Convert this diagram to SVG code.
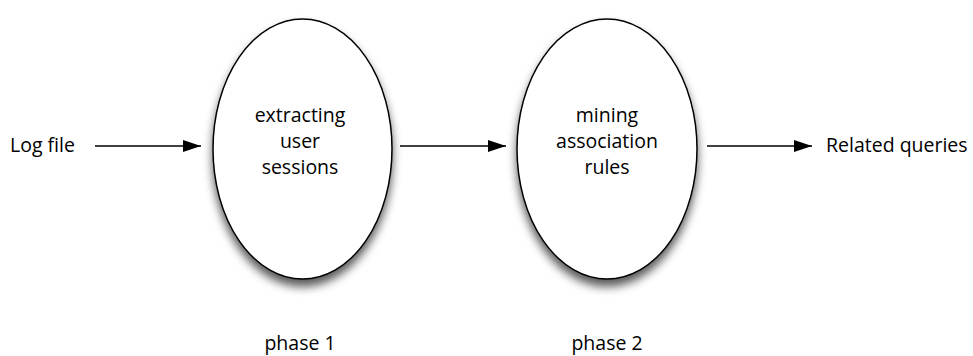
<svg xmlns="http://www.w3.org/2000/svg" width="973" height="356" viewBox="0 0 973 356">
<style>
text{font-family:"Open Sans","Liberation Sans",sans-serif;font-size:19.5px;fill:#000}
.c{text-anchor:middle}
.node ellipse{fill:#fff;stroke:#000;stroke-width:1.5}
.conn line{stroke:#000;stroke-width:1.5}
</style>
<defs>
<filter id="sh" x="-20%" y="-20%" width="140%" height="150%">
<feDropShadow dx="0" dy="7" stdDeviation="5" flood-color="#000" flood-opacity="0.65"/>
</filter>
<marker id="ah" markerWidth="18" markerHeight="12" refX="18" refY="6" orient="auto" markerUnits="userSpaceOnUse">
<path d="M0,0 L18,6 L0,12 Z" fill="#000"/>
</marker>
</defs>
<g id="logfile"><text x="10" y="152">Log file</text></g>
<g id="phase1node" class="node">
<ellipse cx="302.5" cy="149" rx="89.5" ry="130" filter="url(#sh)"/>
<text class="c" x="300" y="122">extracting</text>
<text class="c" x="300" y="148">user</text>
<text class="c" x="300" y="174">sessions</text>
</g>
<g id="phase2node" class="node">
<ellipse cx="607" cy="149" rx="90" ry="130" filter="url(#sh)"/>
<text class="c" x="607" y="122">mining</text>
<text class="c" x="607" y="148">association</text>
<text class="c" x="607" y="174">rules</text>
</g>
<g id="related"><text x="826" y="152">Related queries</text></g>
<g id="label1"><text class="c" x="300" y="350">phase 1</text></g>
<g id="label2"><text class="c" x="607" y="350">phase 2</text></g>
<g id="connectors" class="conn">
<line x1="95" y1="146" x2="201" y2="146" marker-end="url(#ah)"/>
<line x1="400" y1="146" x2="506" y2="146" marker-end="url(#ah)"/>
<line x1="707" y1="146" x2="812" y2="146" marker-end="url(#ah)"/>
</g>
</svg>
